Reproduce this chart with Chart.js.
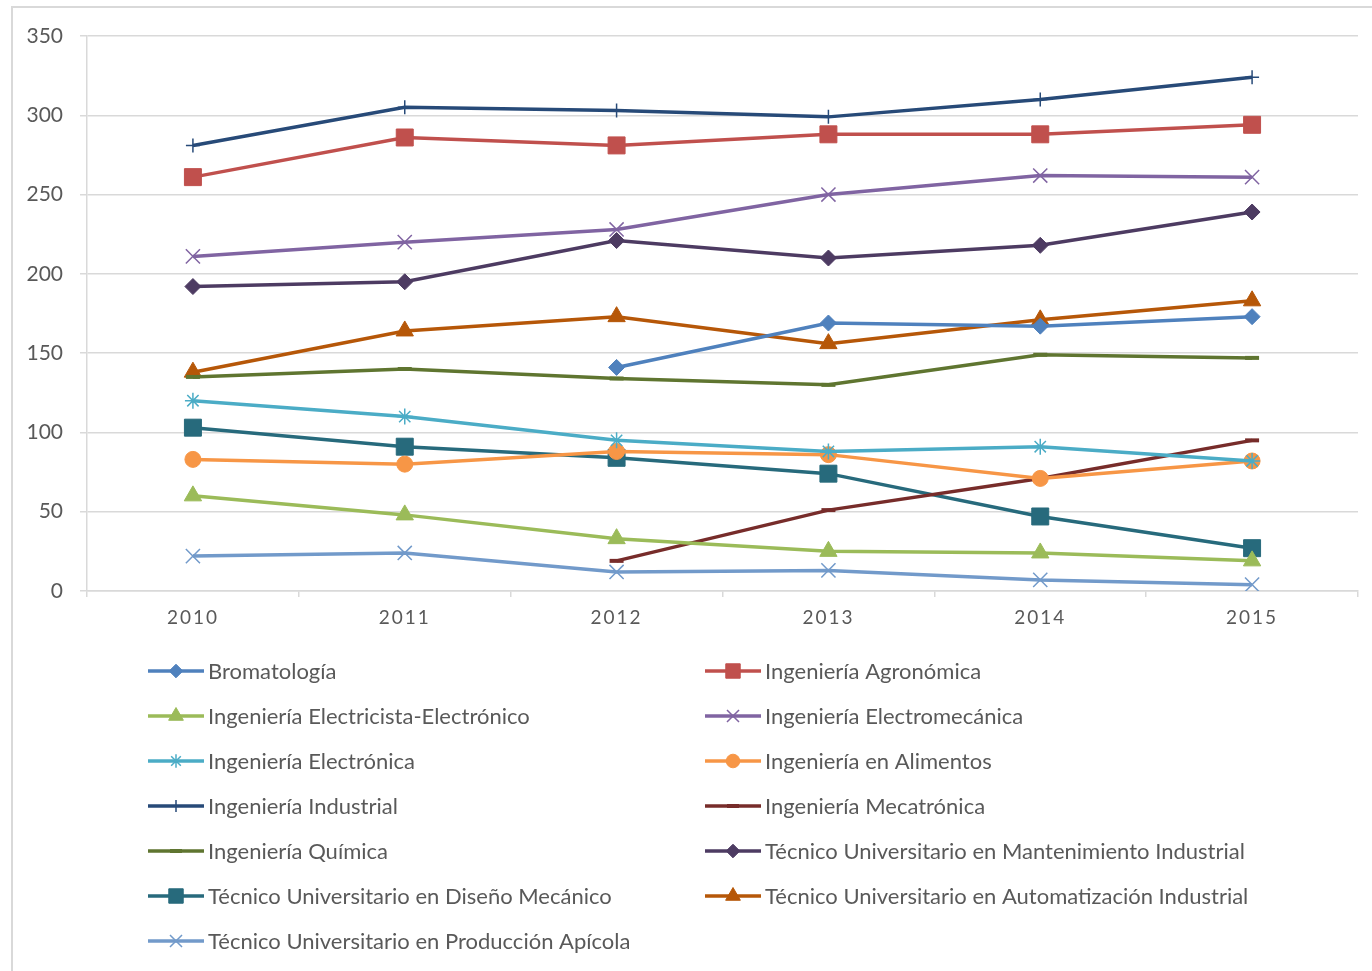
<!DOCTYPE html>
<html>
<head>
<meta charset="utf-8">
<script src="https://cdn.jsdelivr.net/npm/chart.js@4/dist/chart.umd.min.js"></script>
<style>
  html, body { margin: 0; padding: 0; background: #fff; overflow: hidden; }
  #wrap { position: relative; width: 1372px; height: 971px; }
  #frame { position: absolute; left: 11px; top: 6px; width: 1400px; height: 1000px; border: 2px solid #d9d9d9; box-sizing: border-box; }
  canvas { position: absolute; left: 0; top: 0; }
</style>
</head>
<body>
<div id="wrap">
  <div id="frame"></div>
  <canvas id="chart" width="1372" height="971"></canvas>
</div>
<script>
const years = ["2010", "2011", "2012", "2013", "2014", "2015"];
const yTicks = [0, 50, 100, 150, 200, 250, 300, 350];

const bromatologia = [null, null, 141, 169, 167, 173];
const agronomica = [261, 286, 281, 288, 288, 294];
const electricista = [60, 48, 33, 25, 24, 19];
const electromecanica = [211, 220, 228, 250, 262, 261];
const electronica = [120, 110, 95, 88, 91, 82];
const alimentos = [83, 80, 88, 86, 71, 82];
const industrial = [281, 305, 303, 299, 310, 324];
const mecatronica = [null, null, 19, 51, 71, 95];
const quimica = [135, 140, 134, 130, 149, 147];
const mantenimiento = [192, 195, 221, 210, 218, 239];
const disenoMecanico = [103, 91, 84, 74, 47, 27];
const automatizacion = [138, 164, 173, 156, 171, 183];
const apicola = [22, 24, 12, 13, 7, 4];

const FONT = "Lato";
const TEXT = "#595959";
const GRID = "#d9d9d9";

function series(label, data, color, style, radius, pbw) {
  const filled = ["rect", "rectRot", "triangle", "circle"].includes(style);
  return {
    label: label,
    data: data,
    borderColor: color,
    backgroundColor: color,
    borderWidth: 3.5,
    pointStyle: style,
    pointRadius: radius,
    pointHoverRadius: radius,
    pointBackgroundColor: filled ? color : "transparent",
    pointBorderColor: color,
    pointBorderWidth: pbw,
    tension: 0,
    spanGaps: false
  };
}

const datasets = [
  series("Bromatología", bromatologia, "#4F81BD", "rectRot", 8, 1),
  series("Ingeniería Agronómica", agronomica, "#C0504D", "rect", 12, 1),
  series("Ingeniería Electricista-Electrónico", electricista, "#9BBB59", "triangle", 10, 1),
  series("Ingeniería Electromecánica", electromecanica, "#8064A2", "crossRot", 10, 1.5),
  series("Ingeniería Electrónica", electronica, "#4BACC6", "star", 8, 1.5),
  series("Ingeniería en Alimentos", alimentos, "#F79646", "circle", 8, 1),
  series("Ingeniería Industrial", industrial, "#274A78", "cross", 7, 1.5),
  series("Ingeniería Mecatrónica", mecatronica, "#772C2A", "line", 7, 4),
  series("Ingeniería Química", quimica, "#5F7530", "line", 7, 4),
  series("Técnico Universitario en Mantenimiento Industrial", mantenimiento, "#4D3B62", "rectRot", 8, 1),
  series("Técnico Universitario en Diseño Mecánico", disenoMecanico, "#276A7C", "rect", 12, 1),
  series("Técnico Universitario en Automatización Industrial", automatizacion, "#B65708", "triangle", 10, 1),
  series("Técnico Universitario en Producción Apícola", apicola, "#729ACA", "crossRot", 10, 1.5)
];

// x labels in the original are spaced out a little
const spacedXLabels = {
  id: "spacedXLabels",
  afterLayout(chart) {
    const sc = chart.scales.x;
    if (sc._spaced) return;
    const orig = sc.drawLabels;
    sc.drawLabels = function (area) {
      this.ctx.save();
      this.ctx.letterSpacing = "2px";
      orig.call(this, area);
      this.ctx.restore();
    };
    sc._spaced = true;
  }
};

// two column legend under the plot
const legendCols = [148, 705];
const legendTop = 671;
const legendGap = 45;

const columnLegend = {
  id: "columnLegend",
  afterDraw(chart) {
    const ctx = chart.ctx;
    chart.data.datasets.forEach((ds, i) => {
      const x0 = legendCols[i % 2];
      const y = legendTop + Math.floor(i / 2) * legendGap;
      ctx.save();
      ctx.strokeStyle = ds.borderColor;
      ctx.lineWidth = 3.5;
      ctx.beginPath();
      ctx.moveTo(x0, y);
      ctx.lineTo(x0 + 56, y);
      ctx.stroke();
      ctx.fillStyle = ds.pointBackgroundColor;
      ctx.strokeStyle = ds.pointBorderColor;
      ctx.lineWidth = ds.pointBorderWidth;
      Chart.helpers.drawPoint(ctx, {
        pointStyle: ds.pointStyle,
        rotation: 0,
        radius: ds.pointRadius * 0.85,
        borderWidth: ds.pointBorderWidth
      }, x0 + 28, y);
      ctx.fillStyle = TEXT;
      ctx.font = "22px " + FONT;
      ctx.textBaseline = "middle";
      ctx.textAlign = "left";
      ctx.fillText(ds.label, x0 + 60, y + 1);
      ctx.restore();
    });
  }
};

const chart = new Chart(document.getElementById("chart"), {
  type: "line",
  data: { labels: years, datasets: datasets },
  options: {
    responsive: false,
    animation: false,
    layout: { padding: { top: 36, right: 14, left: 0, bottom: 0 } },
    plugins: {
      legend: { display: false },
      tooltip: { enabled: false }
    },
    scales: {
      x: {
        offset: true,
        grid: {
          offset: true,
          drawOnChartArea: false,
          drawTicks: true,
          tickLength: 6,
          color: GRID,
          lineWidth: 1.5
        },
        border: { display: true, color: GRID, width: 1.5 },
        ticks: { color: TEXT, font: { family: FONT, size: 19 }, padding: 9, maxRotation: 0 },
        afterFit(scale) { scale.height = 971 - 591; }
      },
      y: {
        min: 0,
        max: 350,
        afterBuildTicks(scale) { scale.ticks = yTicks.map(v => ({ value: v })); },
        grid: { color: GRID, lineWidth: 1.5, drawTicks: true, tickLength: 7 },
        border: { display: true, color: GRID, width: 1.5 },
        ticks: { color: TEXT, font: { family: FONT, size: 21 }, padding: 17 },
        afterFit(scale) { scale.width = 87; }
      }
    }
  },
  plugins: [spacedXLabels, columnLegend]
});
</script>
</body>
</html>
